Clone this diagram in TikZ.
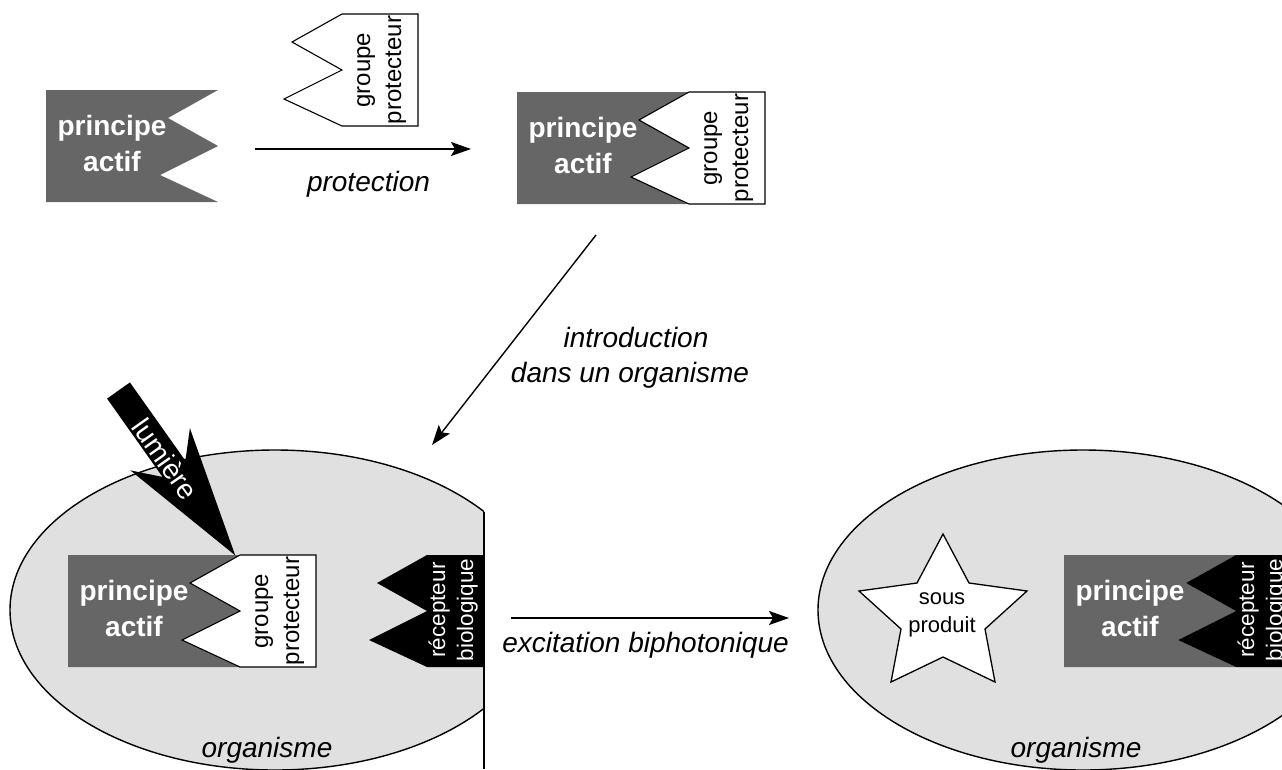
\documentclass[tikz,border=0pt]{standalone}
\usepackage{fontspec}
\setmainfont{Liberation Sans}
\usetikzlibrary{arrows.meta}
\definecolor{actifgray}{RGB}{102,102,102}
\definecolor{orggray}{RGB}{224,224,224}
\tikzset{
  pa text/.style={text=white, font=\fontsize{28}{34}\selectfont\bfseries, anchor=base, inner sep=0pt},
  gp text/.style={font=\fontsize{24}{29}\selectfont, rotate=90, anchor=base, inner sep=0pt},
  rc text/.style={text=white, font=\fontsize{22.5}{27}\selectfont, rotate=90, anchor=base, inner sep=0pt},
  label text/.style={font=\fontsize{28}{34}\selectfont\itshape, anchor=base, inner sep=0pt},
  small text/.style={font=\fontsize{22}{27}\selectfont, anchor=base, inner sep=0pt},
  flow/.style={line width=1.4pt, -{Stealth[length=20pt,width=14pt,inset=4pt]}},
  organism/.style={fill=orggray, draw=black, line width=1.4pt},
  % active principle: grey block with a notched right side
  pics/principe/.style={code={
    \fill[actifgray] (0,0) -- (172,0) -- (122,28) -- (172,56) -- (114,85) -- (172,112) -- (0,112) -- cycle;
    \node[pa text] (-l1) at (66,45) {principe};
    \node[pa text] (-l2) at (66,81) {actif};
  }},
  % protecting group: white block whose left side fits the notches
  pics/groupe/.style={code={
    \draw[fill=white, line width=1.1pt, line join=miter]
      (172,0) -- (248,0) -- (248,112) -- (172,112) -- (114,85) -- (172,56) -- (122,28) -- cycle;
    \node[gp text] (-l1) at (200,56) {groupe};
    \node[gp text] (-l2) at (231,56) {protecteur};
  }},
  % biological receptor: black block with the same fitting side
  pics/recepteur/.style={code={
    \fill[black] (172,0) -- (228,0) -- (228,112) -- (172,112) -- (114,85) -- (172,56) -- (122,28) -- cycle;
    \node[rc text] (-l1) at (190,55) {récepteur};
    \node[rc text] (-l2) at (218,55) {biologique};
  }},
}
\begin{document}
\begin{tikzpicture}[x=1pt, y=-1pt]
\useasboundingbox (0,0) rectangle (1282,769);
\clip (0,0) rectangle (1282,769);

% organisms
\begin{scope}
  \clip (0,0) rectangle (484,769);
  \draw[organism] (275,610) ellipse [x radius=265, y radius=160];
\end{scope}
\draw[line width=1.4pt] (484,511.6) -- (484,769);
\draw[organism] (1083,610) ellipse [x radius=265, y radius=160];

% top row: protection step
\pic (pa1) at (46,90) {principe};
\pic (gp1) at (170,14) {groupe};
\pic (pa2) at (517,92) {principe};
\pic (gp2) at (517,92) {groupe};

% protected molecule inside the organism
\pic (pa3) at (68,555) {principe};
\pic (gp3) at (68,555) {groupe};
\pic (rc1) at (255,555) {recepteur};

% after release
\pic (pa4) at (1064,555) {principe};
\pic (rc2) at (1064,555) {recepteur};

% by-product star
\draw[fill=white, line width=1.3pt, line join=miter]
  (943,534) -- (969,583) -- (1027,591) -- (985,629) -- (995,682) -- (943,657)
  -- (891,682) -- (901,629) -- (859,591) -- (917,583) -- cycle;
\node[small text] (sp1) at (942,604) {sous};
\node[small text] (sp2) at (942,632) {produit};

% light arrow
\begin{scope}[shift={(118.5,390.5)}, rotate=-54.7]
  \fill[black] (0,-14) -- (96,-14) -- (72,-36.5) -- (202,0) -- (72,36.5) -- (96,14) -- (0,14) -- cycle;
  \node[text=white, font=\fontsize{28}{34}\selectfont, rotate=-54.7, inner sep=0pt] (lum) at (83,1) {lumière};
\end{scope}

% process arrows
\coordinate (protA) at (255,149);
\coordinate (protB) at (471,149);
\draw[flow] (protA) -- (protB);
\node[label text] (protL) at (368.5,191) {protection};

\coordinate (introA) at (596,235);
\coordinate (introB) at (432,445);
\draw[flow] (introA) -- (introB);
\node[label text] (introL1) at (636,347) {introduction};
\node[label text] (introL2) at (630,382) {dans un organisme};

\coordinate (excA) at (511,618);
\coordinate (excB) at (789,618);
\draw[flow] (excA) -- (excB);
\node[label text] (excL) at (645.5,652) {excitation biphotonique};

\node[label text] (org1) at (267,757) {organisme};
\node[label text] (org2) at (1076,757) {organisme};
\end{tikzpicture}
\end{document}
